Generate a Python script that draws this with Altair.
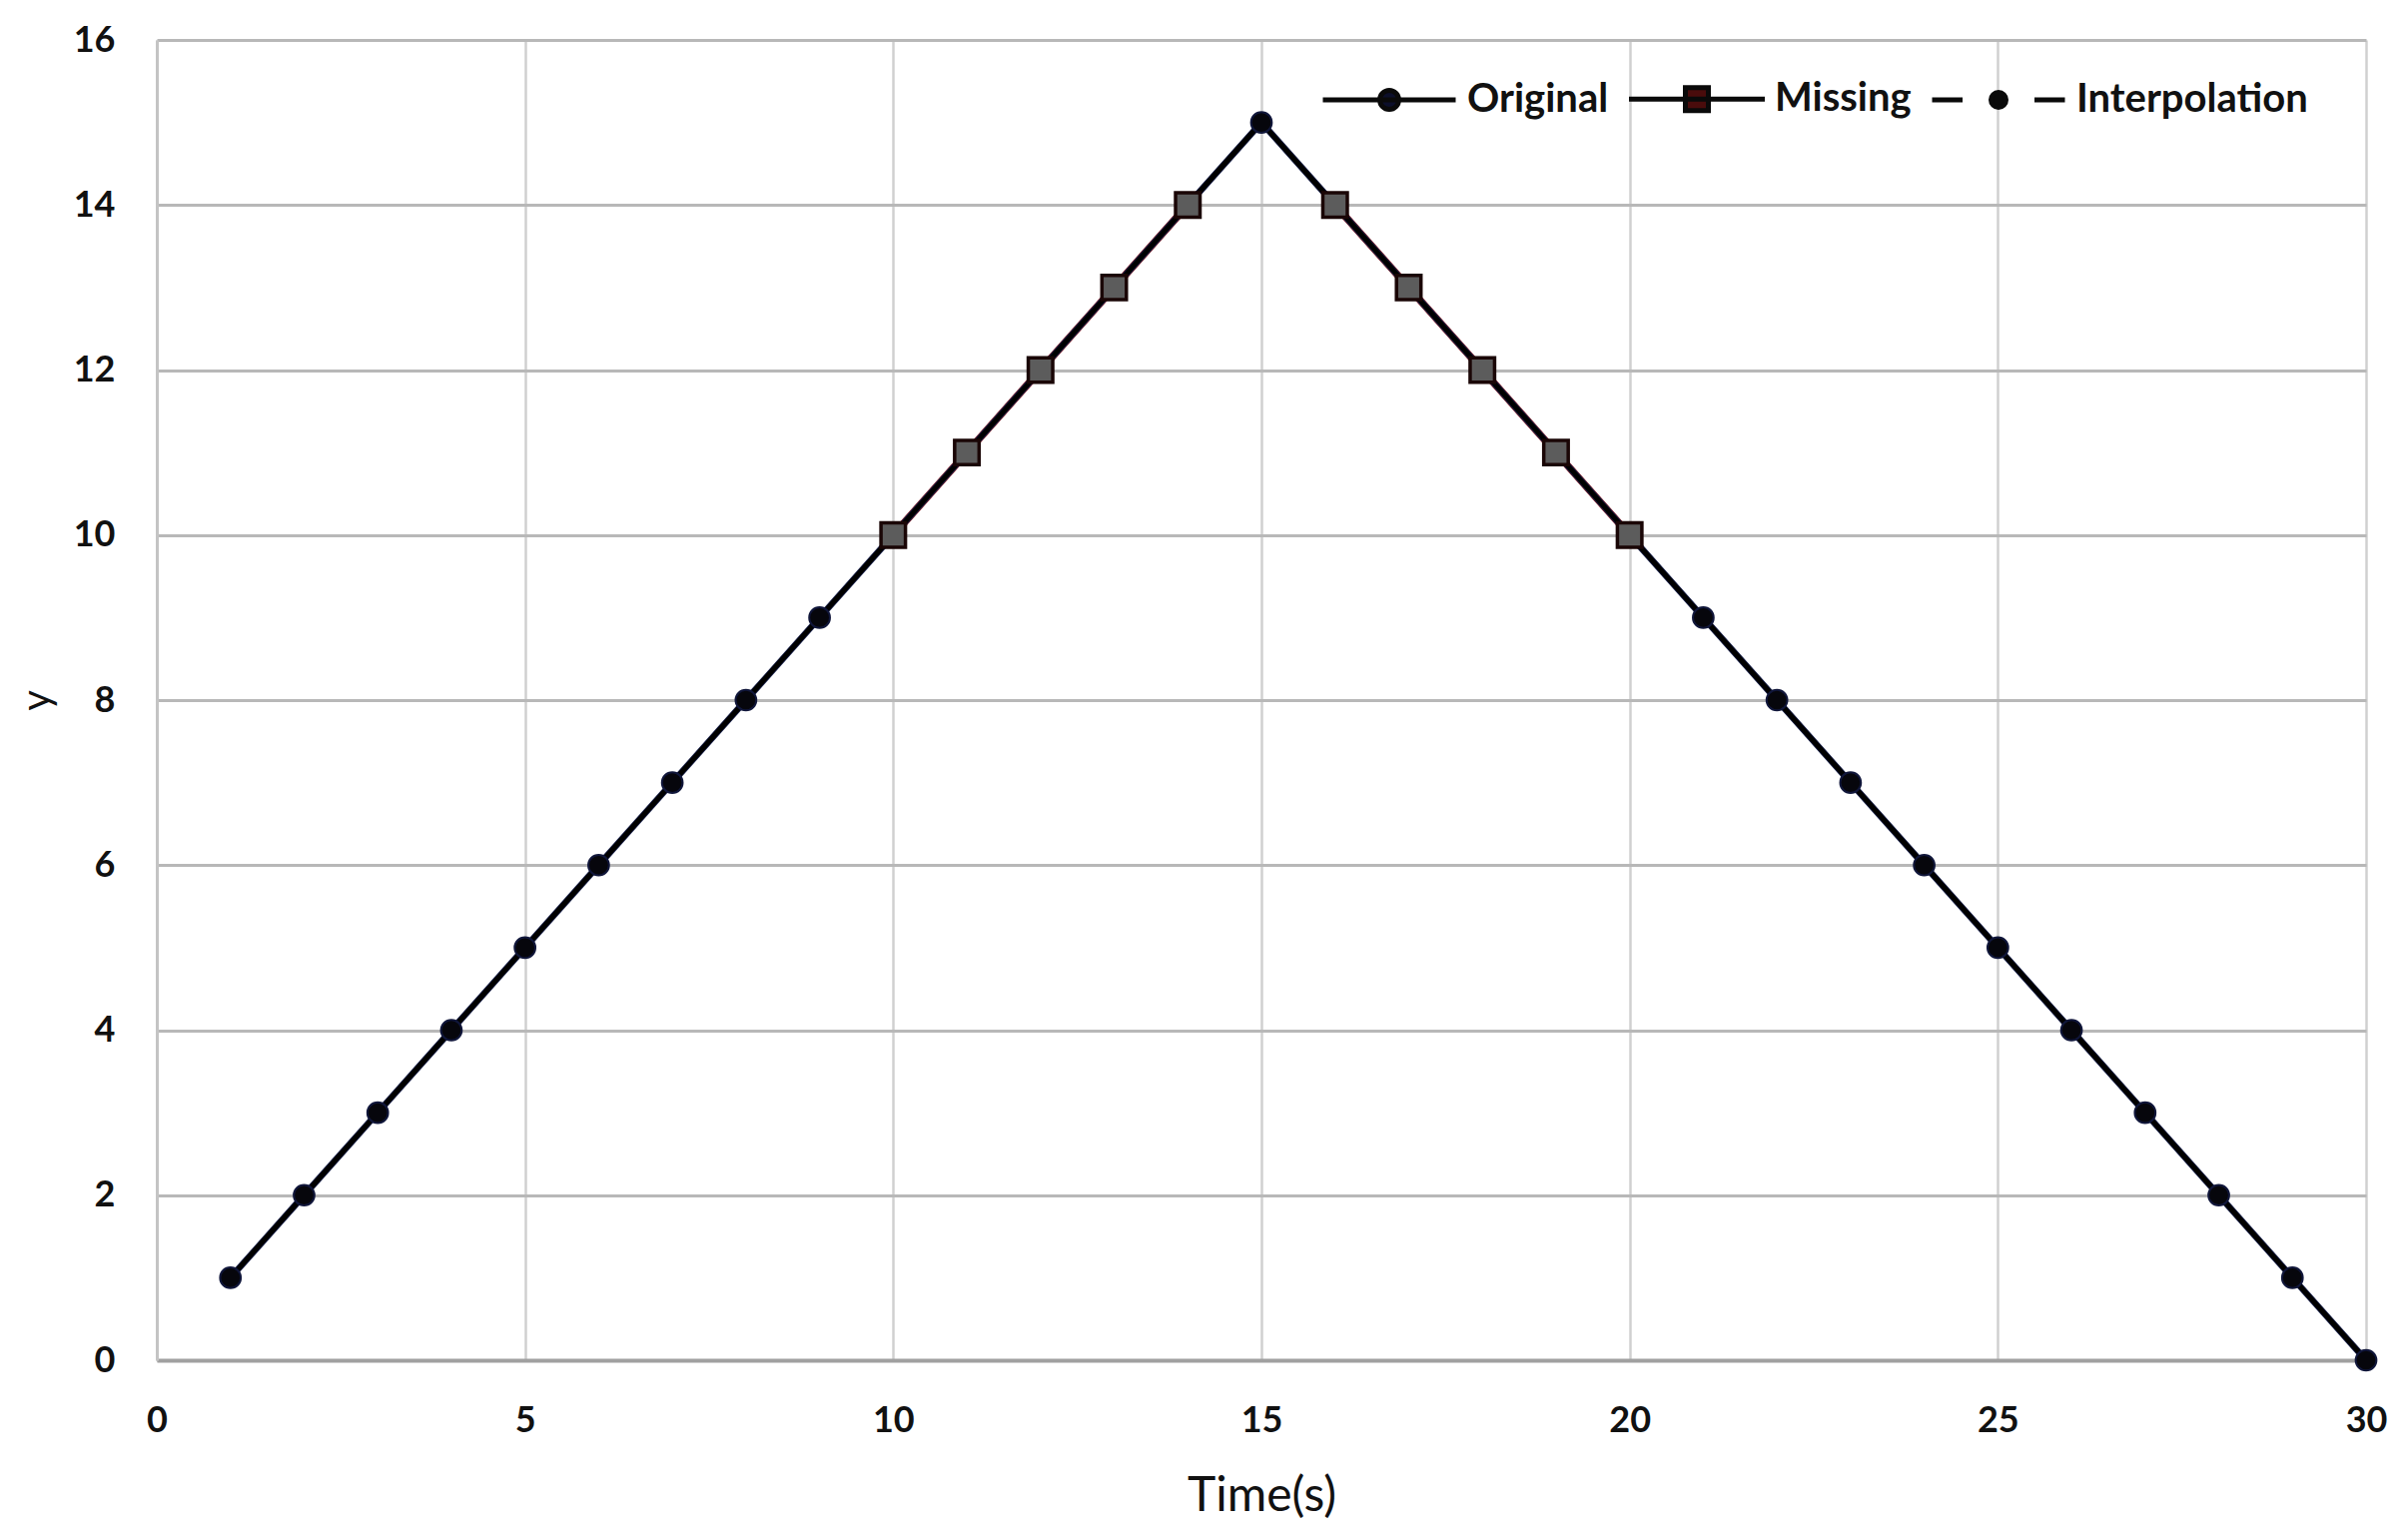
import altair as alt
import pandas as pd

# ---- data ----
time_s = list(range(1, 31))
original_y = [1, 2, 3, 4, 5, 6, 7, 8, 9, 10, 11, 12, 13, 14, 15,
              14, 13, 12, 11, 10, 9, 8, 7, 6, 5, 4, 3, 2, 1, 0]

missing_t = [10, 11, 12, 13, 14, 16, 17, 18, 19, 20]
missing_y = [10, 11, 12, 13, 14, 14, 13, 12, 11, 10]
missing_seg = ["a", "a", "a", "a", "a", "b", "b", "b", "b", "b"]

interp_t = [10, 11, 12, 13, 14, 15, 16, 17, 18, 19, 20]
interp_y = [10, 11, 12, 13, 14, 15, 14, 13, 12, 11, 10]

series_names = ["Original", "Missing", "Interpolation"]
x_ticks = [0, 5, 10, 15, 20, 25, 30]
y_ticks = [0, 2, 4, 6, 8, 10, 12, 14, 16]

orig_df = pd.DataFrame({"t": time_s, "v": original_y})
miss_df = pd.DataFrame({"t": missing_t, "v": missing_y, "seg": missing_seg})
interp_df = pd.DataFrame({"t": interp_t, "v": interp_y})
legend_df = pd.DataFrame({"t": [0, 0, 0], "v": [0, 0, 0], "series": series_names})

FONT = "Lato"

x_enc = alt.X(
    "t:Q",
    scale=alt.Scale(domain=[0, 30], nice=False, zero=False),
    axis=alt.Axis(
        values=x_ticks, format="d", title="Time(s)", grid=True, gridColor="#d0d0d0", gridWidth=2.5,
        domainColor="#a0a0a0", domainWidth=4, ticks=False, labelFlush=False,
        labelFont=FONT, labelFontSize=36, labelFontWeight="bold", labelColor="#111111",
        labelPadding=43, titleFont=FONT, titleFontSize=48, titleFontWeight="normal",
        titleColor="#111111", titlePadding=34,
    ),
)
y_enc = alt.Y(
    "v:Q",
    scale=alt.Scale(domain=[0, 16], nice=False, zero=False),
    axis=alt.Axis(
        values=y_ticks, format="d", title="y", grid=True, gridColor="#b8b8b8", gridWidth=3,
        domainColor="#c4c4c4", domainWidth=3, ticks=False, labelFlush=False,
        labelFont=FONT, labelFontSize=36, labelFontWeight="bold", labelColor="#111111",
        labelPadding=42, titleFont=FONT, titleFontSize=40, titleFontWeight="normal",
        titleColor="#111111", titlePadding=16,
    ),
)

# dashed interpolation line (mostly hidden under the others)
interp_line = alt.Chart(interp_df).mark_line(
    color="#111111", strokeWidth=5, strokeDash=[18, 10]
).encode(x=x_enc, y=y_enc)

# missing line (dark red edge)
miss_line = alt.Chart(miss_df).mark_line(
    color="#8a1010", strokeWidth=7.5
).encode(x="t:Q", y="v:Q", detail="seg:N")

# original line with faint bluish halo
orig_halo = alt.Chart(orig_df).mark_line(
    color="#1c2450", strokeWidth=6.5
).encode(x="t:Q", y="v:Q")
orig_line = alt.Chart(orig_df).mark_line(
    color="#000000", strokeWidth=5
).encode(x="t:Q", y="v:Q")

orig_pts = alt.Chart(orig_df).mark_point(
    shape="circle", filled=True, size=430, color="#06060c", opacity=1,
    stroke="#10163a", strokeWidth=2
).encode(x="t:Q", y="v:Q")

interp_pts = alt.Chart(interp_df).mark_point(
    shape="circle", filled=True, size=300, color="#0a0a0a", opacity=1
).encode(x="t:Q", y="v:Q")

miss_pts = alt.Chart(miss_df).mark_point(
    shape="square", filled=True, size=600, color="#5c5c5c", opacity=1,
    stroke="#1a0606", strokeWidth=3.5
).encode(x="t:Q", y="v:Q")

# legend-only layer (no rows drawn); symbols are line+marker paths
legend_paths = [
    "M-6.65,0H6.65M-0.95,0A0.95,0.95,0,1,1,0.95,0A0.95,0.95,0,1,1,-0.95,0Z",
    "M-6.8,0H6.8M-1.15,-1.15H1.15V1.15H-1.15Z",
    "M-6.65,0H-3.6M3.6,0H6.65M-0.75,0A0.75,0.75,0,1,1,0.75,0A0.75,0.75,0,1,1,-0.75,0Z",
]
legend_fill = ["#0c0f2a", "#4a0c0c", "#0a0a0a"]

legend_props = dict(
    title=None, orient="none", direction="horizontal",
    legendX=1160, legendY=39,
    symbolSize=400, symbolStrokeWidth=5, symbolOpacity=1,
    symbolOffset=54, labelOffset=58, columnPadding=10,
    labelFont=FONT, labelFontSize=40, labelFontWeight="bold",
    labelColor="#111111", labelLimit=600, padding=0,
)

legend_layer = alt.Chart(legend_df).transform_filter("false").mark_point(
    filled=True, opacity=1, stroke="#0a0a0a", strokeWidth=5, size=400
).encode(
    x="t:Q", y="v:Q",
    shape=alt.Shape("series:N", scale=alt.Scale(domain=series_names, range=legend_paths),
                    legend=alt.Legend(**legend_props)),
    color=alt.Color("series:N", scale=alt.Scale(domain=series_names, range=legend_fill),
                    legend=alt.Legend(**legend_props)),
)

chart = alt.layer(
    interp_line, miss_line, orig_halo, orig_line, interp_pts, orig_pts, miss_pts, legend_layer
).properties(
    width=2212, height=1322,
    padding={"left": 149, "top": 32, "right": 30, "bottom": 170},
    autosize=alt.AutoSizeParams(type="none"),
    background="white",
).configure_view(stroke=None)

chart.save("out.html", embed_options={"renderer": "svg", "actions": False})
